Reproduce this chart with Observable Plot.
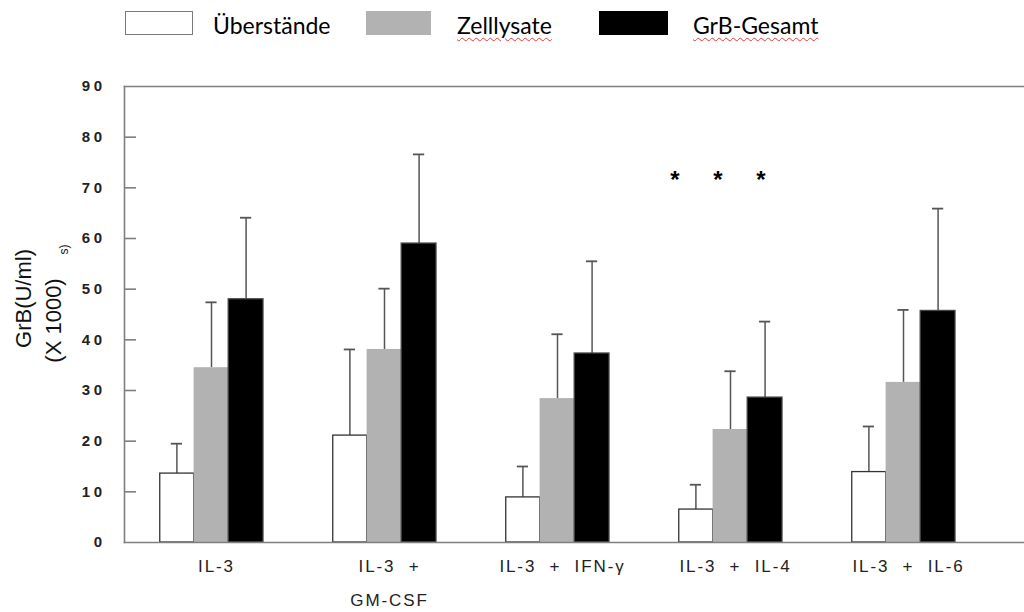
<!DOCTYPE html>
<html>
<head>
<meta charset="utf-8">
<script src="https://cdn.jsdelivr.net/npm/d3@7"></script>
<script src="https://cdn.jsdelivr.net/npm/@observablehq/plot@0.6"></script>
<style>
  body { margin: 0; background: #fff; }
  #wrap { position: relative; width: 1024px; height: 612px; overflow: hidden; }
  #legend { position: relative; height: 48px; font-family: Lato, "Open Sans", "Noto Sans", sans-serif; font-size: 23px; color: #000; }
  #legend .box { position: absolute; top: 11px; height: 24px; box-sizing: border-box; }
  #legend .lab { position: absolute; top: 12px; line-height: 26px; white-space: nowrap; }
  #legend .spell { text-decoration: underline wavy #e23b3b; text-decoration-thickness: 1px; text-underline-offset: 3px; }
  .chart g[aria-label="y-axis tick label"] text { letter-spacing: 3.5px; }
  .chart g[aria-label="x-axis tick label"] text { letter-spacing: 1.9px; white-space: pre; }
</style>
</head>
<body>
<div id="wrap">
  <div id="legend"></div>
  <div id="chart"></div>
</div>
<script>
// ---- data ----
const groups = ["IL-3", "IL-3 + GM-CSF", "IL-3 + IFN-γ", "IL-3 + IL-4", "IL-3 + IL-6"];
const groupLabels = ["IL-3", "IL-3  +\nGM-CSF", "IL-3  +  IFN-γ", "IL-3  +  IL-4", "IL-3  +  IL-6"];
const series = ["Überstände", "Zelllysate", "GrB-Gesamt"];
const ueberstaende    = [13.6, 21.1, 8.9, 6.5, 13.9];
const ueberstaendeErr = [5.9, 17.0, 6.1, 4.9, 9.0];
const zelllysate      = [34.5, 38.1, 28.4, 22.3, 31.6];
const zelllysateErr   = [12.9, 12.0, 12.7, 11.5, 14.3];
const gesamt          = [48.0, 59.0, 37.3, 28.6, 45.7];
const gesamtErr       = [16.1, 17.6, 18.2, 15.0, 20.2];
const yTicks = [0, 10, 20, 30, 40, 50, 60, 70, 80, 90];
const yTitle = ["GrB(U/ml)", "(X 1000)", "s)"];
const starGroup = "IL-3 + IL-4";
const starValue = 72;
const starText = "*";

// ---- table ----
const values = [ueberstaende, zelllysate, gesamt];
const errs = [ueberstaendeErr, zelllysateErr, gesamtErr];
const rows = [];
groups.forEach((g, i) => series.forEach((s, j) => rows.push({group: g, series: s, value: values[j][i], err: errs[j][i]})));

// ---- styles ----
const BAR = 34.6;   // one third of the band
const CAP = 46.4;   // inset so that caps are ~11px wide
const FRAME_W = 900; // plot frame width (1024 - 124)
const TICK = 12;     // inward tick length
const styles = {
  "Überstände": {fill: "#ffffff", stroke: "#333333", insetLeft: 0.75, insetRight: 2 * BAR, dx: -BAR},
  "Zelllysate": {fill: "#b2b2b2", stroke: "none", insetLeft: BAR, insetRight: BAR, dx: 0},
  "GrB-Gesamt": {fill: "#000000", stroke: "#444444", insetLeft: 2 * BAR, insetRight: 0, dx: BAR}
};

// ---- legend ----
const legend = document.getElementById("legend");
const legendLayout = [
  {box: 125, w: 68, lab: 213, fill: "#fff", border: "1.5px solid #7a7a7a", spell: false},
  {box: 366, w: 65, lab: 457, fill: "#b2b2b2", border: "none", spell: true},
  {box: 599, w: 69, lab: 693, fill: "#000", border: "none", spell: true}
];
series.forEach((s, i) => {
  const L = legendLayout[i];
  const b = document.createElement("div");
  b.className = "box";
  b.style.left = L.box + "px"; b.style.width = L.w + "px";
  b.style.background = L.fill; b.style.border = L.border;
  legend.appendChild(b);
  const t = document.createElement("div");
  t.className = "lab";
  t.style.left = L.lab + "px";
  const span = document.createElement("span");
  span.textContent = s;
  if (L.spell) span.className = "spell";
  t.appendChild(span);
  legend.appendChild(t);
});

// ---- marks ----
const marks = [];
series.forEach(s => {
  const st = styles[s];
  const data = rows.filter(d => d.series === s);
  marks.push(Plot.ruleX(data, {x: "group", y1: "value", y2: d => d.value + d.err, dx: st.dx, stroke: "#555", strokeWidth: 1.5}));
  marks.push(Plot.tickY(data, {x: "group", y: d => d.value + d.err, dx: st.dx, insetLeft: CAP, insetRight: CAP, stroke: "#555", strokeWidth: 1.8}));
  marks.push(Plot.barY(data, {x: "group", y: "value", fill: st.fill, stroke: st.stroke, strokeWidth: 1.3, insetLeft: st.insetLeft, insetRight: st.insetRight}));
});

// frame lines
marks.push(Plot.frame({anchor: "left", stroke: "#7f7f7f", strokeWidth: 1.6}));
marks.push(Plot.frame({anchor: "top", stroke: "#7f7f7f", strokeWidth: 1.6}));
marks.push(Plot.frame({anchor: "bottom", stroke: "#7f7f7f", strokeWidth: 1.6}));

// inward y ticks
marks.push(Plot.tickY(yTicks.filter(d => d > 0 && d < 90), {y: d => d, insetRight: FRAME_W - TICK, stroke: "#7f7f7f", strokeWidth: 1.6}));

// y axis labels
marks.push(Plot.axisY(yTicks, {tickSize: 0, tickPadding: 19, fontSize: 15, fontWeight: 600, fill: "#222", label: null,
  fontFamily: "'Liberation Sans Narrow', 'Liberation Sans', Arial, sans-serif"}));

// x axis labels
marks.push(Plot.axisX({tickSize: 0, tickPadding: 5, fontSize: 17, fill: "#222", label: null, lineHeight: 2.0, dx: 5,
  fontFamily: "'Liberation Sans Narrow', 'Liberation Sans', Arial, sans-serif",
  tickFormat: d => groupLabels[groups.indexOf(d)]}));

// y title
const titleFont = "'Liberation Sans', Arial, sans-serif";
marks.push(Plot.text([yTitle[0]], {frameAnchor: "left", textAnchor: "middle", rotate: -90, dx: -101, dy: -16, fontSize: 22, fill: "#111", fontFamily: titleFont}));
marks.push(Plot.text([yTitle[1]], {frameAnchor: "left", textAnchor: "middle", rotate: -90, dx: -71, dy: 6, fontSize: 22, fill: "#111", fontFamily: titleFont}));
marks.push(Plot.text([yTitle[2]], {frameAnchor: "left", textAnchor: "middle", rotate: -90, dx: -60, dy: -65, fontSize: 12, fill: "#111", fontFamily: titleFont}));

// significance stars
[-55.5, -12.5, 30.5].forEach(off => {
  marks.push(Plot.text([starText], {x: () => starGroup, y: () => starValue, text: d => d, dx: off, dy: 3, fontSize: 24, fontWeight: "bold", fill: "#000", fontFamily: titleFont}));
});

const chart = Plot.plot({
  className: "chart",
  width: 1024,
  height: 564,
  marginTop: 38,
  marginBottom: 70,
  marginLeft: 124,
  marginRight: 0,
  style: {background: "transparent", overflow: "visible"},
  x: {domain: groups, range: [124, 989], paddingInner: 0.4, paddingOuter: 0.2, axis: null},
  y: {domain: [0, 90], axis: null},
  marks
});
document.getElementById("chart").appendChild(chart);
</script>
</body>
</html>
